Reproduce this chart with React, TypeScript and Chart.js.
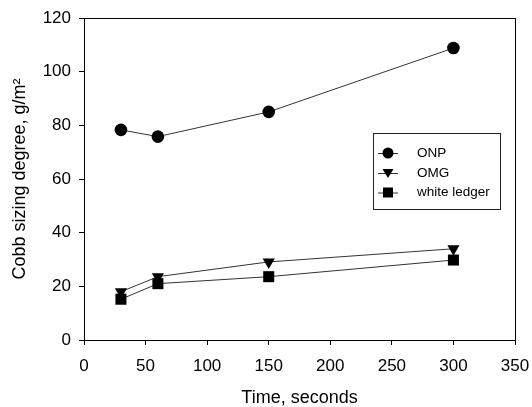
import React, { useEffect, useRef } from "react";
import { Chart, registerables } from "chart.js";

Chart.register(...registerables);

const seriesNames = ["ONP", "OMG", "white ledger"];
const timeSeconds = [30, 60, 150, 300];
const onpValues = [78.3, 75.8, 85, 108.8];
const omgValues = [18, 23.6, 29.1, 34];
const whiteLedgerValues = [15.2, 21, 23.6, 29.8];
const xTicks = [0, 50, 100, 150, 200, 250, 300, 350];
const yTicks = [0, 20, 40, 60, 80, 100, 120];

const FONT = "'Liberation Sans', Arial, sans-serif";

const boxPlugin = {
  id: "boxAndLegend",
  afterDraw(chart: any) {
    const { ctx, chartArea } = chart;
    ctx.save();
    ctx.strokeStyle = "#000";
    ctx.lineWidth = 1;
    ctx.strokeRect(
      Math.round(chartArea.left) + 0.5,
      Math.round(chartArea.top) + 0.5,
      Math.round(chartArea.right - chartArea.left),
      Math.round(chartArea.bottom - chartArea.top)
    );
    // legend
    const lx = 373.5, ly = 133.5, lw = 127, lh = 76;
    ctx.strokeStyle = "#222";
    ctx.strokeRect(lx, ly, lw, lh);
    const rows = [153, 173, 192.5];
    const styles = ["circle", "triangle", "rect"];
    ctx.font = `13.5px ${FONT}`;
    ctx.textBaseline = "middle";
    ctx.fillStyle = "#000";
    rows.forEach((y, i) => {
      ctx.strokeStyle = "#333";
      ctx.beginPath();
      ctx.moveTo(378, y + 0.5);
      ctx.lineTo(398, y + 0.5);
      ctx.stroke();
      ctx.fillStyle = "#000";
      ctx.beginPath();
      const cx = 388;
      if (styles[i] === "circle") {
        ctx.arc(cx, y, 5.5, 0, Math.PI * 2);
      } else if (styles[i] === "triangle") {
        ctx.moveTo(cx - 5.5, y - 4);
        ctx.lineTo(cx + 5.5, y - 4);
        ctx.lineTo(cx, y + 5);
        ctx.closePath();
      } else {
        ctx.rect(cx - 5, y - 5, 10, 10);
      }
      ctx.fill();
      ctx.fillText(seriesNames[i], 417, y);
    });
    ctx.restore();
  },
};

export default function App() {
  const ref = useRef<HTMLCanvasElement>(null);
  useEffect(() => {
    document.body.style.margin = "0";
    const mk = (vals: number[]) => timeSeconds.map((x, i) => ({ x, y: vals[i] }));
    const common = {
      borderColor: "#333",
      borderWidth: 1,
      backgroundColor: "#000",
      pointBackgroundColor: "#000",
      pointBorderColor: "#000",
      pointBorderWidth: 0,
      showLine: true,
      tension: 0,
    };
    const chart = new Chart(ref.current!, {
      type: "scatter",
      data: {
        datasets: [
          { ...common, label: seriesNames[0], data: mk(onpValues), pointStyle: "circle", pointRadius: 6.3 },
          { ...common, label: seriesNames[1], data: mk(omgValues), pointStyle: "triangle", pointRotation: 180, pointRadius: 7 },
          { ...common, label: seriesNames[2], data: mk(whiteLedgerValues), pointStyle: "rect", pointRadius: 7.8 },
        ],
      },
      options: {
        animation: false,
        responsive: false,
        devicePixelRatio: 1,
        layout: { padding: { top: 18, right: 17, left: 0, bottom: 0 } },
        plugins: { legend: { display: false }, tooltip: { enabled: false } },
        scales: {
          x: {
            type: "linear",
            min: 0,
            max: 350,
            afterBuildTicks: (s: any) => { s.ticks = xTicks.map((v) => ({ value: v })); },
            afterFit: (s: any) => { s.height = 67; s.paddingLeft = 0; s.paddingRight = 0; },
            grid: { drawOnChartArea: false, drawTicks: true, tickLength: 5, color: "#000" },
            border: { display: true, color: "#000" },
            ticks: { color: "#000", font: { family: FONT, size: 17 }, padding: 11, maxRotation: 0 },
            title: { display: true, text: "Time, seconds", color: "#000", font: { family: FONT, size: 18 }, padding: { top: 0, bottom: -2 } },
          },
          y: {
            type: "linear",
            min: 0,
            max: 120,
            afterBuildTicks: (s: any) => { s.ticks = yTicks.map((v) => ({ value: v })); },
            afterFit: (s: any) => { s.width = 84; s.paddingTop = 0; s.paddingBottom = 0; },
            grid: { drawOnChartArea: false, drawTicks: true, tickLength: 5, color: "#000" },
            border: { display: true, color: "#000" },
            ticks: { color: "#000", font: { family: FONT, size: 17 }, padding: 8 },
            title: { display: true, text: "Cobb sizing degree, g/m²", color: "#000", font: { family: FONT, size: 18 }, padding: { top: 9, bottom: 0 } },
          },
        },
      },
      plugins: [boxPlugin],
    } as any);
    return () => chart.destroy();
  }, []);
  return (
    <div style={{ width: 532, height: 407 }}>
      <canvas ref={ref} width={532} height={407} style={{ display: "block", width: 532, height: 407 }} />
    </div>
  );
}
